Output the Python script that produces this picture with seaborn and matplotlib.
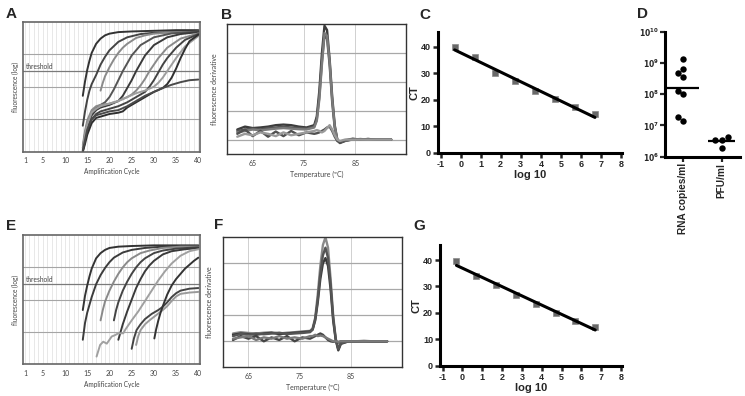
import numpy as np
import pandas as pd
import matplotlib
matplotlib.use("Agg")
import matplotlib.pyplot as plt
import seaborn as sns

sns.set_style("white")
plt.rcParams['font.family'] = ['Liberation Sans', 'DejaVu Sans']
plt.rcParams['axes.unicode_minus'] = False

# ---- panel A: amplification curves (fluorescence on a 0-100 scale) ----
a_cycles = [
    [14, 14.5, 15, 15.5, 16, 17, 18, 19, 20, 22, 25, 30, 35, 40],
    [14, 14.5, 15, 15.5, 16, 17, 17.5, 18, 19, 20, 22, 24, 27, 30, 35, 40],
    [18, 18.5, 19, 20, 21, 22, 23, 24, 26, 28, 30, 33, 36, 40],
    [14, 14.5, 15, 16, 17, 18, 19, 20, 21, 22, 23, 24, 25, 27, 30, 34, 40],
    [14, 14.5, 15, 16, 17, 18, 20, 22, 23, 24, 25, 26, 27, 28, 30, 33, 36, 40],
    [14, 14.5, 15, 16, 17, 18, 20, 22, 24, 25, 26, 27, 28, 29, 30, 31, 33, 36, 40],
    [14, 14.5, 15, 16, 17, 18, 20, 22, 24, 26, 28, 29, 30, 31, 32, 33, 35, 37, 40],
    [14, 14.5, 15, 16, 17, 18, 20, 22, 24, 26, 28, 30, 31, 32, 33, 34, 35, 37, 40],
    [14, 14.5, 15, 16, 17, 18, 20, 22, 23, 24, 26, 28, 30, 32, 33, 34, 35, 36, 37, 38, 40],
    [14, 14.5, 15, 16, 17, 18, 20, 22, 24, 26, 28, 30, 32, 34, 36, 38, 40],
]
a_values = [
    [43, 54, 63, 70, 76, 83, 87, 89.5, 90.8, 92, 92.5, 93, 93.5, 93.5],
    [20, 31, 40, 47, 52, 59, 63, 67, 73, 78, 84.5, 88, 90.5, 91.5, 92, 92.5],
    [47, 53, 58, 65, 71, 76, 80, 83, 87.5, 89.5, 90.8, 91.5, 92, 92],
    [3, 14, 22, 30, 34, 36, 38, 42, 48, 55, 62, 68, 74, 82, 88, 91, 92.5],
    [1, 10, 19, 28, 32, 34, 36, 39, 43, 49, 55, 62, 68, 74, 82, 88, 90.5, 92],
    [5, 16, 24, 32, 35, 36, 37, 39, 42, 44, 47, 51, 56, 62, 67, 72, 80, 87, 91],
    [0, 8, 16, 25, 29, 31, 33, 35, 38, 42, 46, 50, 55, 61, 67, 72, 80, 86, 90.5],
    [2, 12, 21, 30, 33, 35, 37, 39, 42, 45, 47, 50, 53, 57, 62, 67, 72, 81, 89],
    [0, 6, 13, 22, 26, 27, 29, 30, 31, 34, 38, 42, 46, 49, 52, 57, 64, 72, 79, 85, 90],
    [1, 9, 17, 25, 28, 29, 31, 32, 35, 39, 43, 46, 49, 51.5, 53.5, 55, 55.5],
]
a_colors = ['#333333', '#444444', '#8a8a8a', '#555555', '#3a3a3a',
            '#8a8a8a', '#444444', '#9d9d9d', '#2f2f2f', '#4a4a4a']

# ---- panel E: amplification curves ----
e_cycles = [
    [14, 14.5, 15, 15.5, 16, 17, 18, 19, 20, 22, 25, 30, 40],
    [14, 14.5, 15, 16, 17, 18, 19, 20, 21, 23, 25, 28, 32, 40],
    [18, 18.5, 19, 20, 21, 22, 23, 24, 25, 27, 29, 32, 36, 40],
    [21, 21.5, 22, 23, 24, 25, 26, 27, 28, 30, 32, 35, 40],
    [22, 22.5, 23, 24, 25, 26, 27, 28, 29, 30, 32, 34, 37, 40],
    [17.1, 17.9, 18.6, 19.4, 20.5, 21.2, 22, 23.1, 23.6, 25, 26.5, 28, 29.5, 31, 32.5, 34, 36, 38, 40],
    [25, 25.5, 26.1, 27, 28, 29.5, 31, 32, 33, 34, 35, 36, 38, 40],
    [26, 26.5, 27, 28, 29, 30.5, 32, 33, 34, 35, 36, 38, 40],
    [30.1, 30.5, 31, 31.5, 32, 33, 34, 35, 36, 37, 38, 39, 40],
]
e_values = [
    [42, 53, 61, 68, 74, 82, 86, 88.5, 90, 91, 91.5, 92, 92],
    [19, 32, 40, 52, 62, 69, 74.5, 79, 82.5, 86.5, 88.5, 90, 91, 91.5],
    [34, 42, 48.5, 57, 64, 70, 75, 79, 82, 86, 88, 90, 91, 91],
    [34, 42, 48, 57, 64, 70, 75, 79, 82, 86, 88, 89.5, 90.5],
    [19, 25, 31, 41, 50, 59, 66, 72, 76.5, 80, 85, 87.5, 89, 90],
    [6, 15, 17.5, 16, 21.5, 22.5, 24, 24, 27, 34, 41, 49, 57, 65, 72, 78, 84, 87.5, 89],
    [12, 20, 26.5, 31, 35, 39, 42, 44.5, 48, 52, 55, 57, 58.5, 59],
    [15, 22, 26.5, 31, 34, 38, 42, 45, 49, 52.5, 54.5, 55.5, 56],
    [20, 27, 34, 40, 45, 54, 61, 66, 70, 74, 77, 80, 82.5],
]
e_colors = ['#333333', '#3c3c3c', '#8a8a8a', '#444444', '#3a3a3a',
            '#a0a0a0', '#444444', '#9a9a9a', '#333333']

# ---- panel B: melt curves ----
b_temp = [62, 63.5, 65, 66.5, 68, 69.5, 71, 72.5, 74, 75.5, 77, 77.5, 78, 78.5,
          79, 79.5, 80, 80.5, 81, 81.5, 82, 83, 84.5, 86, 87.5, 89, 90.5, 92]
b_values = [
    [0.35, 0.45, 0.4, 0.42, 0.45, 0.5, 0.52, 0.5, 0.45, 0.42, 0.5, 0.8, 1.7, 3.0,
     3.95, 3.8, 2.8, 1.5, 0.5, 0.0, -0.12, -0.05, 0.02, 0.0, 0.02, 0.0, 0.0, 0.0],
    [0.3, 0.35, 0.38, 0.35, 0.4, 0.42, 0.45, 0.42, 0.4, 0.38, 0.45, 0.7, 1.5, 2.7,
     3.6, 3.5, 2.6, 1.3, 0.4, -0.02, -0.1, -0.04, 0.0, 0.02, 0.0, 0.0, 0.0, 0.0],
    [0.25, 0.3, 0.35, 0.32, 0.35, 0.38, 0.4, 0.38, 0.36, 0.35, 0.42, 0.65, 1.4, 2.6,
     3.7, 3.6, 2.7, 1.4, 0.45, 0.0, -0.08, -0.03, 0.0, 0.0, 0.0, 0.0, 0.0, 0.0],
    [0.2, 0.35, 0.12, 0.3, 0.1, 0.28, 0.12, 0.3, 0.15, 0.25, 0.2, 0.22, 0.25, 0.3,
     0.35, 0.42, 0.45, 0.3, 0.1, -0.05, -0.1, -0.02, 0.03, 0.0, 0.02, 0.0, 0.0, 0.0],
    [0.1, 0.2, 0.15, 0.25, 0.2, 0.12, 0.25, 0.15, 0.2, 0.25, 0.3, 0.33, 0.3, 0.25,
     0.3, 0.4, 0.5, 0.35, 0.15, 0.0, -0.05, 0.0, 0.0, 0.0, 0.0, 0.0, 0.0, 0.0],
]
b_colors = ['#3c3c3c', '#555555', '#7a7a7a', '#505050', '#9a9a9a']

# ---- panel F: melt curves ----
f_temp = [62, 63.5, 65, 66.5, 68, 69.5, 71, 72.5, 74, 75.5, 77, 77.5, 78, 78.5,
          79, 79.5, 80, 80.5, 81, 81.5, 82, 82.5, 83, 84.5, 86, 87.5, 89, 90.5, 92]
f_values = [
    [0.3, 0.35, 0.32, 0.3, 0.33, 0.35, 0.3, 0.33, 0.35, 0.38, 0.4, 0.5, 0.9, 1.8,
     2.9, 3.7, 4.0, 3.6, 2.4, 1.0, 0.1, -0.3, -0.05, 0.0, 0.0, 0.02, 0.0, 0.0, 0.0],
    [0.25, 0.3, 0.28, 0.25, 0.3, 0.32, 0.28, 0.3, 0.33, 0.35, 0.38, 0.45, 0.8, 1.5,
     2.4, 3.0, 3.2, 2.9, 2.0, 0.8, 0.05, -0.35, -0.1, 0.0, 0.0, 0.0, 0.0, 0.0, 0.0],
    [0.2, 0.28, 0.25, 0.3, 0.27, 0.3, 0.33, 0.28, 0.3, 0.32, 0.35, 0.45, 0.85, 1.6,
     2.6, 3.3, 3.6, 3.2, 2.2, 0.9, 0.08, -0.3, -0.08, 0.0, 0.0, 0.0, 0.0, 0.0, 0.0],
    [0.05, 0.2, 0.1, 0.2, 0.0, 0.15, 0.05, 0.2, 0.0, 0.15, 0.1, 0.15, 0.2, 0.25,
     0.3, 0.25, 0.15, 0.05, 0.0, -0.02, 0.0, -0.05, 0.0, 0.0, 0.0, 0.0, 0.0, 0.0, 0.0],
    [0.1, 0.15, 0.2, 0.05, 0.15, 0.1, 0.2, 0.1, 0.15, 0.1, 0.2, 0.2, 0.25, 0.2,
     0.22, 0.2, 0.15, 0.1, 0.05, 0.0, 0.0, -0.02, 0.0, 0.0, 0.0, 0.0, 0.0, 0.0, 0.0],
]
f_colors = ['#8a8a8a', '#3a3a3a', '#555555', '#444444', '#7a7a7a']

# ---- panels C and G: standard curves ----
c_log = [-0.3, 0.7, 1.7, 2.7, 3.7, 4.7, 5.7, 6.7]
c_ct = [39.8, 36.2, 30.2, 27.2, 23.4, 20.1, 17.1, 14.6]
g_log = [-0.3, 0.7, 1.7, 2.7, 3.7, 4.7, 5.7, 6.7]
g_ct = [39.6, 33.9, 30.5, 26.8, 23.5, 20.0, 17.0, 14.7]

# ---- panel D: titers ----
d_groups = ['RNA copies/ml'] * 8 + ['PFU/ml'] * 4
d_values = [1.35e9, 6.3e8, 4.7e8, 3.5e8, 1.26e8, 1.0e8, 1.4e7, 1.9e7,
            4.2e6, 3.4e6, 3.4e6, 1.9e6]

light = ['Lato', 'DejaVu Sans']
txt = '#444444'


def amp_panel(ax, cycles, values, colors):
    for cyc, val, col in zip(cycles, values, colors):
        sns.lineplot(x=cyc, y=val, ax=ax, color=col, lw=1.4, sort=False, estimator=None)
    ax.set_xlim(0.55, 40.38)
    ax.set_ylim(0, 100)
    ax.set_xticks(range(1, 41), minor=True)
    ax.set_xticks([1, 5, 10, 15, 20, 25, 30, 35, 40])
    ax.set_xticklabels(['1', '5', '10', '15', '20', '25', '30', '35', '40'],
                       fontsize=5, color=txt, family=light)
    ax.grid(which='both', axis='x', color='#e4e4e4', lw=0.6, zorder=0)
    ax.set_axisbelow(True)
    for lvl in [25, 50, 75]:
        ax.axhline(lvl, color='#a5a5a5', lw=0.8, zorder=1.5)
    ax.axhline(62, color='#7a7a7a', lw=0.9, zorder=1.5)
    ax.text(1.3, 63.5, 'threshold', fontsize=4.8, color=txt, family=light)
    ax.set_yticks([])
    ax.tick_params(length=0, pad=4)
    ax.set_xlabel('Amplification Cycle', fontsize=4.7, color=txt, family=light, labelpad=3)
    ax.set_ylabel('fluorescence (log)', fontsize=4.7, color=txt, family=light, labelpad=3)
    for s in ax.spines.values():
        s.set_color('#666666')
        s.set_linewidth(1.2)


def melt_panel(ax, temp, values, colors, ylim):
    for val, col in zip(values, colors):
        sns.lineplot(x=temp, y=val, ax=ax, color=col, lw=1.7, sort=False, estimator=None)
    ax.set_xlim(60.05, 94.9)
    ax.set_ylim(*ylim)
    ax.set_xticks([65, 75, 85])
    ax.set_xticklabels(['65', '75', '85'], fontsize=5, color=txt, family=light)
    ax.set_yticks([0, 1, 2, 3])
    ax.set_yticklabels([])
    ax.grid(axis='x', color='#d0d0d0', lw=0.7)
    ax.grid(axis='y', color='#a8a8a8', lw=0.9)
    ax.set_axisbelow(True)
    ax.tick_params(length=0, pad=4)
    ax.set_xlabel('Temperature (ºC)', fontsize=5, color=txt, family=light, labelpad=3)
    ax.set_ylabel('fluorescence derivative', fontsize=5, color=txt, family=light, labelpad=3)
    for s in ax.spines.values():
        s.set_color('#333333')
        s.set_linewidth(1.0)


def std_panel(ax, x, y):
    sns.regplot(x=x, y=y, ax=ax, ci=None, marker='s',
                scatter_kws={'s': 18, 'color': '#444444', 'edgecolor': '#888888', 'linewidths': 0.6},
                line_kws={'color': 'black', 'lw': 2.2})
    ax.set_xlim(-1.13, 8.05)
    ax.set_ylim(0, 45.7)
    ax.set_xticks(range(-1, 9))
    ax.set_yticks([0, 10, 20, 30, 40])
    sns.despine(ax=ax)
    for s in ['left', 'bottom']:
        ax.spines[s].set_linewidth(2.2)
        ax.spines[s].set_color('black')
    ax.tick_params(direction='out', length=3.5, width=1.8, labelsize=6.5, pad=1.5,
                   bottom=True, left=True)
    for lab in ax.get_xticklabels() + ax.get_yticklabels():
        lab.set_fontweight('bold')
    ax.set_xlabel('log 10', fontsize=8, fontweight='bold', labelpad=1)
    ax.set_ylabel('CT', fontsize=8, fontweight='bold', labelpad=1)


fig = plt.figure(figsize=(7.45, 3.96), dpi=100)

ax_a = fig.add_axes([0.0309, 0.6169, 0.2376, 0.3283])
ax_b = fig.add_axes([0.3051, 0.6111, 0.2399, 0.3275])
ax_c = fig.add_axes([0.5879, 0.6144, 0.2470, 0.3056])
ax_d = fig.add_axes([0.8926, 0.6043, 0.1007, 0.3157])
ax_e = fig.add_axes([0.0309, 0.0800, 0.2376, 0.3265])
ax_f = fig.add_axes([0.2993, 0.0725, 0.2403, 0.3283])
ax_g = fig.add_axes([0.5906, 0.0765, 0.2443, 0.3048])

amp_panel(ax_a, a_cycles, a_values, a_colors)
amp_panel(ax_e, e_cycles, e_values, e_colors)
melt_panel(ax_b, b_temp, b_values, b_colors, (-0.5, 4.0))
melt_panel(ax_f, f_temp, f_values, f_colors, (-1.0, 4.0))
std_panel(ax_c, c_log, c_ct)
std_panel(ax_g, g_log, g_ct)

# D: dot plot on log scale with geometric mean bars
ax_d.set_yscale('log')
order = ['RNA copies/ml', 'PFU/ml']
sns.swarmplot(x=d_groups, y=d_values, order=order, ax=ax_d, color='black', size=4.6)
df = pd.DataFrame({'g': d_groups, 'v': d_values})
for i, g in enumerate(order):
    gm = 10 ** np.log10(df.loc[df.g == g, 'v']).mean()
    half = 0.42 if i == 0 else 0.36
    ax_d.hlines(gm, i - half, i + half, color='black', lw=1.6)
ax_d.set_xlim(-0.48, 1.48)
ax_d.set_ylim(1e6, 1e10)
ax_d.set_yticks([1e6, 1e7, 1e8, 1e9, 1e10])
ax_d.set_yticklabels([r'$\mathbf{10^{6}}$', r'$\mathbf{10^{7}}$', r'$\mathbf{10^{8}}$',
                      r'$\mathbf{10^{9}}$', r'$\mathbf{10^{10}}$'], fontsize=5.5)
sns.despine(ax=ax_d)
for s in ['left', 'bottom']:
    ax_d.spines[s].set_linewidth(2.2)
    ax_d.spines[s].set_color('black')
ax_d.tick_params(which='major', direction='out', length=3.5, width=1.6, pad=1,
                 bottom=True, left=True)
ax_d.tick_params(which='minor', direction='out', length=2, width=0.9, left=True)
ax_d.set_xticks([0, 1])
ax_d.set_xticklabels(order, rotation=90, fontsize=7.3, fontweight='bold')
ax_d.set_xlabel('')
ax_d.set_ylabel('')

# panel letters
for letter, x, y in [('A', 6, 7), ('B', 221, 8), ('C', 419, 8), ('D', 637, 7),
                     ('E', 6, 219), ('F', 214, 218), ('G', 413, 219)]:
    fig.text(x / 745, 1 - y / 396, letter, fontsize=11, fontweight='bold',
             va='top', ha='left')

fig.savefig('out.png', dpi=100)
